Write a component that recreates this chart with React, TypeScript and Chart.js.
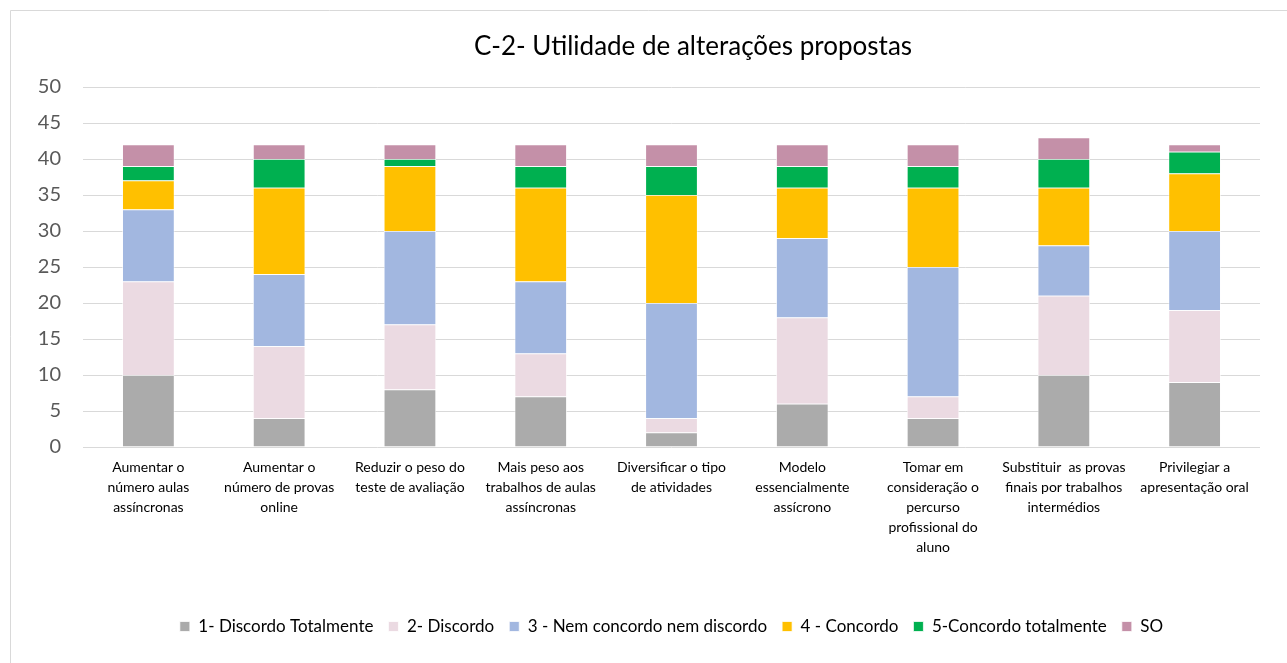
import React, { useEffect, useRef } from "react";
import { Chart, registerables } from "chart.js";

Chart.register(...registerables);

const categories: string[][] = [
  ["Aumentar o", "número aulas", "assíncronas"],
  ["Aumentar o", "número de provas", "online"],
  ["Reduzir o peso do", "teste de avaliação"],
  ["Mais peso aos", "trabalhos de aulas", "assíncronas"],
  ["Diversificar o tipo", "de atividades"],
  ["Modelo", "essencialmente", "assícrono"],
  ["Tomar em", "consideração o", "percurso", "profissional do", "aluno"],
  ["Substituir  as provas", "finais por trabalhos", "intermédios"],
  ["Privilegiar a", "apresentação oral"],
];

const discordoTotalmente = [10, 4, 8, 7, 2, 6, 4, 10, 9];
const discordo = [13, 10, 9, 6, 2, 12, 3, 11, 10];
const nemConcordo = [10, 10, 13, 10, 16, 11, 18, 7, 11];
const concordo = [4, 12, 9, 13, 15, 7, 11, 8, 8];
const concordoTotalmente = [2, 4, 1, 3, 4, 3, 3, 4, 3];
const so = [3, 2, 2, 3, 3, 3, 3, 3, 1];

const seriesLabels = [
  "1- Discordo Totalmente",
  "2- Discordo",
  "3 - Nem concordo nem discordo",
  "4 - Concordo",
  "5-Concordo totalmente",
  "SO",
];
const seriesColors = ["#ABABAB", "#EBDAE2", "#A2B7E0", "#FFC000", "#00B050", "#C490A8"];

const title = "C-2- Utilidade de alterações propostas";
const FONT = "Lato, 'Open Sans', sans-serif";

const decorPlugin = {
  id: "decor",
  beforeDraw(chart: any) {
    const ctx = chart.ctx;
    ctx.save();
    ctx.fillStyle = "#ffffff";
    ctx.fillRect(0, 0, chart.width, chart.height);
    ctx.strokeStyle = "#D9D9D9";
    ctx.lineWidth = 1;
    ctx.beginPath();
    ctx.moveTo(10.5, chart.height);
    ctx.lineTo(10.5, 10.5);
    ctx.lineTo(chart.width, 10.5);
    ctx.stroke();
    ctx.fillStyle = "#000000";
    ctx.font = `26px ${FONT}`;
    ctx.textAlign = "center";
    ctx.textBaseline = "alphabetic";
    ctx.fillText(title, 693, 55);
    ctx.restore();
  },
};

export default function App() {
  const ref = useRef<HTMLCanvasElement | null>(null);
  useEffect(() => {
    document.body.style.margin = "0";
    const data = [discordoTotalmente, discordo, nemConcordo, concordo, concordoTotalmente, so];
    const chart = new Chart(ref.current as HTMLCanvasElement, {
      type: "bar",
      data: {
        labels: categories,
        datasets: data.map((d, i) => ({
          label: seriesLabels[i],
          data: d,
          backgroundColor: seriesColors[i],
          borderColor: "#ffffff",
          borderWidth: 0.75,
          barPercentage: 0.4,
          categoryPercentage: 1,
        })),
      },
      options: {
        animation: false,
        responsive: false,
        maintainAspectRatio: false,
        layout: { padding: { top: 87, right: 27, bottom: 18, left: 0 } },
        plugins: {
          title: { display: false },
          tooltip: { enabled: false },
          legend: {
            position: "bottom",
            fullSize: false,
            labels: {
              boxWidth: 10,
              boxHeight: 10,
              padding: 15,
              color: "#000000",
              font: { family: FONT, size: 17 },
            },
          },
        },
        scales: {
          x: {
            stacked: true,
            grid: { display: false, drawTicks: false },
            border: { display: false },
            ticks: {
              color: "#000000",
              font: { family: FONT, size: 14, lineHeight: 1.43 },
              padding: 10,
              maxRotation: 0,
              autoSkip: false,
            },
            afterFit(scale: any) {
              scale.height = 156;
            },
          },
          y: {
            stacked: true,
            min: 0,
            max: 50,
            grid: { color: "#D9D9D9", lineWidth: 1, drawTicks: false },
            border: { display: false },
            ticks: {
              stepSize: 5,
              color: "#595959",
              font: { family: FONT, size: 20 },
              padding: 22,
            },
            afterFit(scale: any) {
              scale.width = 83;
            },
          },
        },
      },
      plugins: [decorPlugin],
    });
    return () => chart.destroy();
  }, []);
  return (
    <div style={{ width: 1287, height: 663 }}>
      <canvas ref={ref} width={1287} height={663} style={{ display: "block" }} />
    </div>
  );
}
